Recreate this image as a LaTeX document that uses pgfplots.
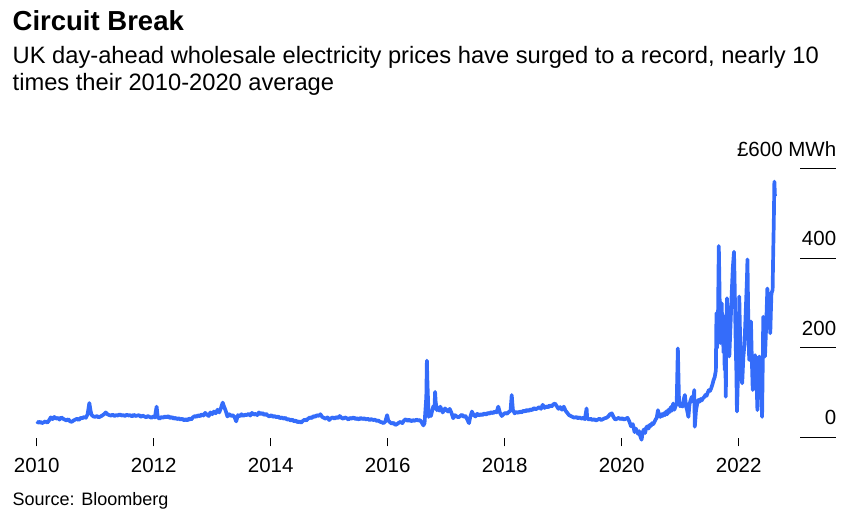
\documentclass[border=0pt]{standalone}
\usepackage{pgfplots}
\pgfplotsset{compat=1.18}
\usepackage{fontspec}
\setmainfont{Liberation Sans}
\definecolor{lineblue}{RGB}{52,108,250}
\begin{document}
\begin{tikzpicture}[x=1bp,y=1bp]
\useasboundingbox (0,0) rectangle (864,516);
\node[anchor=base west,inner sep=0pt,font=\fontsize{27.5bp}{30bp}\selectfont\bfseries] at (12.5,485.3) {Circuit Break};
\node[anchor=base west,inner sep=0pt,font=\fontsize{23.7bp}{26bp}\selectfont] at (12.5,452.7) {UK day-ahead wholesale electricity prices have surged to a record, nearly 10};
\node[anchor=base west,inner sep=0pt,font=\fontsize{23.7bp}{26bp}\selectfont] at (12.5,425) {times their 2010-2020 average};
\node[anchor=base west,inner sep=0pt,font=\fontsize{18bp}{20bp}\selectfont] at (12.5,10) {Source: Bloomberg};
\begin{axis}[
  at={(30.85bp,69.55bp)}, anchor=south west,
  scale only axis, width=751.7bp, height=277.45bp,
  xmin=2009.9, xmax=2022.75, ymin=-20, ymax=600,
  clip=false,
  axis line style={draw=none},
  ytick=\empty,
  xtick={2010,2012,2014,2016,2018,2020,2022},
  xticklabels={2010,2012,2014,2016,2018,2020,2022},
  xtick pos=bottom, tick align=inside,
  major tick length=8bp,
  xtick style={black,line width=1bp},
  xticklabel style={anchor=base,yshift=-25.85bp,font=\fontsize{20.5bp}{22bp}\selectfont,inner sep=0pt},
]
\addplot[lineblue,line width=3.7bp,line join=round] coordinates {
(2010.00,36)(2010.03,33)(2010.06,35)(2010.09,32)(2010.12,34)(2010.15,36)(2010.18,33)(2010.21,38)(2010.24,45)(2010.27,41)(2010.30,46)(2010.33,42)(2010.36,44)(2010.39,40)(2010.42,45)(2010.45,42)(2010.48,40)(2010.51,38)(2010.54,41)(2010.57,36)(2010.60,35)(2010.63,38)(2010.66,40)(2010.69,42)(2010.72,39)(2010.75,44)(2010.78,43)(2010.81,46)(2010.84,44)(2010.87,52)(2010.90,77)(2010.92,60)(2010.94,50)(2010.97,47)
(2011.00,46)(2011.03,48)(2011.06,45)(2011.09,47)(2011.12,49)(2011.15,52)(2011.18,56)(2011.21,52)(2011.24,50)(2011.27,49)(2011.30,51)(2011.33,48)(2011.36,50)(2011.39,49)(2011.42,52)(2011.45,49)(2011.48,50)(2011.51,48)(2011.54,51)(2011.57,49)(2011.60,50)(2011.63,47)(2011.66,51)(2011.69,48)(2011.72,49)(2011.75,50)(2011.78,46)(2011.81,49)(2011.84,47)(2011.87,45)(2011.90,48)(2011.93,46)(2011.96,44)(2011.99,47)
(2012.02,45)(2012.05,69)(2012.07,45)(2012.10,42)(2012.13,46)(2012.16,44)(2012.19,47)(2012.22,45)(2012.25,48)(2012.28,43)(2012.31,46)(2012.34,42)(2012.37,44)(2012.40,41)(2012.43,43)(2012.46,40)(2012.49,42)(2012.52,38)(2012.55,41)(2012.58,38)(2012.61,43)(2012.64,40)(2012.67,45)(2012.70,48)(2012.73,46)(2012.76,50)(2012.79,47)(2012.82,52)(2012.85,49)(2012.88,55)(2012.91,51)(2012.94,48)(2012.97,56)
(2013.00,52)(2013.03,58)(2013.06,54)(2013.09,62)(2013.12,56)(2013.15,66)(2013.18,78)(2013.20,70)(2013.23,60)(2013.26,47)(2013.29,52)(2013.32,48)(2013.35,50)(2013.38,46)(2013.41,36)(2013.44,50)(2013.47,47)(2013.50,52)(2013.53,48)(2013.56,51)(2013.59,50)(2013.62,53)(2013.65,49)(2013.68,55)(2013.71,51)(2013.74,53)(2013.77,50)(2013.80,56)(2013.83,52)(2013.86,55)(2013.89,50)(2013.92,53)(2013.95,49)(2013.98,47)
(2014.01,50)(2014.04,46)(2014.07,48)(2014.10,45)(2014.13,47)(2014.16,43)(2014.19,45)(2014.22,42)(2014.25,44)(2014.28,40)(2014.31,41)(2014.34,38)(2014.37,40)(2014.40,36)(2014.43,38)(2014.46,34)(2014.49,36)(2014.52,33)(2014.55,37)(2014.58,40)(2014.61,38)(2014.64,42)(2014.67,45)(2014.70,43)(2014.73,48)(2014.76,46)(2014.79,50)(2014.82,48)(2014.85,52)(2014.88,46)(2014.91,44)(2014.94,42)(2014.97,45)
(2015.00,39)(2015.03,43)(2015.06,45)(2015.09,42)(2015.12,46)(2015.15,43)(2015.18,48)(2015.21,44)(2015.24,42)(2015.27,45)(2015.30,43)(2015.33,40)(2015.36,44)(2015.39,42)(2015.42,45)(2015.45,41)(2015.48,43)(2015.51,40)(2015.54,44)(2015.57,41)(2015.60,43)(2015.63,40)(2015.66,42)(2015.69,39)(2015.72,41)(2015.75,39)(2015.78,40)(2015.81,37)(2015.84,38)(2015.87,35)(2015.90,34)(2015.93,32)(2015.96,36)(2015.99,50)
(2016.01,38)(2016.04,34)(2016.07,31)(2016.10,33)(2016.13,28)(2016.16,30)(2016.19,33)(2016.22,35)(2016.25,32)(2016.28,38)(2016.31,41)(2016.34,37)(2016.37,40)(2016.40,36)(2016.43,39)(2016.46,37)(2016.49,40)(2016.52,38)(2016.55,39)(2016.58,34)(2016.61,27)(2016.63,32)(2016.66,90)(2016.67,172)(2016.68,120)(2016.70,46)(2016.72,55)(2016.74,48)(2016.76,60)(2016.78,70)(2016.80,65)(2016.81,102)(2016.82,80)(2016.84,61)(2016.86,66)(2016.88,60)(2016.90,69)(2016.92,62)(2016.94,56)(2016.96,60)(2016.98,65)
(2017.00,62)(2017.03,58)(2017.06,64)(2017.09,55)(2017.12,43)(2017.15,50)(2017.18,47)(2017.21,45)(2017.24,48)(2017.27,51)(2017.30,46)(2017.33,48)(2017.36,40)(2017.39,32)(2017.41,45)(2017.44,58)(2017.47,50)(2017.50,47)(2017.53,53)(2017.56,49)(2017.59,52)(2017.62,50)(2017.65,54)(2017.68,51)(2017.71,55)(2017.74,53)(2017.77,57)(2017.80,54)(2017.83,58)(2017.86,56)(2017.89,69)(2017.92,55)(2017.95,48)(2017.98,52)
(2018.01,55)(2018.04,53)(2018.07,57)(2018.10,60)(2018.12,95)(2018.14,62)(2018.17,54)(2018.20,57)(2018.23,55)(2018.26,58)(2018.29,56)(2018.32,60)(2018.35,58)(2018.38,62)(2018.41,59)(2018.44,63)(2018.47,61)(2018.50,66)(2018.53,63)(2018.56,65)(2018.59,68)(2018.62,64)(2018.65,73)(2018.68,66)(2018.71,70)(2018.74,67)(2018.77,72)(2018.80,69)(2018.83,74)(2018.86,76)(2018.89,70)(2018.92,64)(2018.95,68)(2018.98,62)
(2019.01,69)(2019.04,60)(2019.07,55)(2019.10,50)(2019.13,48)(2019.16,46)(2019.19,44)(2019.22,46)(2019.25,43)(2019.28,45)(2019.31,42)(2019.34,44)(2019.37,41)(2019.40,65)(2019.41,43)(2019.44,40)(2019.47,42)(2019.50,39)(2019.53,41)(2019.56,38)(2019.59,40)(2019.62,42)(2019.65,39)(2019.68,41)(2019.71,43)(2019.74,44)(2019.77,47)(2019.80,52)(2019.83,54)(2019.86,46)(2019.89,40)(2019.92,42)(2019.95,44)(2019.98,41)
(2020.01,43)(2020.04,40)(2020.07,42)(2020.10,44)(2020.13,36)(2020.16,25)(2020.19,30)(2020.22,12)(2020.24,20)(2020.26,15)(2020.28,8)(2020.30,14)(2020.32,2)(2020.34,-5)(2020.36,12)(2020.38,18)(2020.40,10)(2020.42,22)(2020.44,25)(2020.46,20)(2020.48,28)(2020.50,26)(2020.52,32)(2020.54,30)(2020.56,35)(2020.58,40)(2020.60,45)(2020.62,61)(2020.64,50)(2020.66,46)(2020.68,52)(2020.70,48)(2020.72,54)(2020.74,50)(2020.76,58)(2020.78,52)(2020.80,62)(2020.82,57)(2020.84,68)(2020.86,60)(2020.88,76)(2020.90,62)(2020.92,70)(2020.94,75)(2020.96,199)(2020.97,140)(2020.98,80)
(2021.00,70)(2021.02,72)(2021.04,69)(2021.06,85)(2021.08,95)(2021.10,70)(2021.12,60)(2021.14,46)(2021.16,75)(2021.18,84)(2021.20,91)(2021.22,80)(2021.24,106)(2021.25,24)(2021.27,60)(2021.29,75)(2021.31,84)(2021.33,80)(2021.35,86)(2021.37,83)(2021.39,88)(2021.41,90)(2021.43,95)(2021.45,93)(2021.47,100)(2021.49,106)(2021.51,104)(2021.53,110)(2021.55,118)(2021.57,128)(2021.59,135)(2021.61,150)(2021.62,278)(2021.63,200)(2021.645,250)(2021.66,428)(2021.67,350)(2021.68,260)(2021.69,211)(2021.70,280)(2021.71,300)(2021.72,230)(2021.73,250)(2021.74,190)(2021.75,270)(2021.76,151)(2021.77,200)(2021.78,91)(2021.79,260)(2021.80,311)(2021.81,250)(2021.82,290)(2021.83,220)(2021.84,181)(2021.86,250)(2021.88,320)(2021.90,380)(2021.92,415)(2021.93,350)(2021.94,277)(2021.95,200)(2021.96,150)(2021.97,58)(2021.98,100)
(2022.00,200)(2022.01,315)(2022.02,250)(2022.03,200)(2022.04,151)(2022.05,130)(2022.06,121)(2022.08,180)(2022.10,210)(2022.12,280)(2022.14,350)(2022.15,398)(2022.16,300)(2022.17,220)(2022.18,173)(2022.19,200)(2022.21,259)(2022.22,200)(2022.23,150)(2022.24,106)(2022.26,150)(2022.28,184)(2022.30,150)(2022.32,61)(2022.33,120)(2022.35,181)(2022.37,150)(2022.39,100)(2022.40,46)(2022.41,150)(2022.42,270)(2022.43,220)(2022.45,181)(2022.47,250)(2022.49,333)(2022.51,300)(2022.53,260)(2022.54,233)(2022.55,280)(2022.56,322)(2022.58,330)(2022.59,412)(2022.60,480)(2022.61,572)(2022.62,540)
};
\draw[black,line width=1bp] (axis cs:2023.048,0) -- (axis cs:2023.67,0);
\draw[black,line width=1bp] (axis cs:2023.048,200) -- (axis cs:2023.67,200);
\draw[black,line width=1bp] (axis cs:2023.048,400) -- (axis cs:2023.67,400);
\draw[black,line width=1bp] (axis cs:2023.048,600) -- (axis cs:2023.67,600);
\node[anchor=base east,inner sep=0pt,yshift=12.5bp,font=\fontsize{20.5bp}{22bp}\selectfont] at (axis cs:2023.67,0) {0};
\node[anchor=base east,inner sep=0pt,yshift=12.5bp,font=\fontsize{20.5bp}{22bp}\selectfont] at (axis cs:2023.67,200) {200};
\node[anchor=base east,inner sep=0pt,yshift=12.5bp,font=\fontsize{20.5bp}{22bp}\selectfont] at (axis cs:2023.67,400) {400};
\node[anchor=base east,inner sep=0pt,yshift=12.5bp,font=\fontsize{20.5bp}{22bp}\selectfont] at (axis cs:2023.67,600) {£600 MWh};
\end{axis}
\end{tikzpicture}
\end{document}
